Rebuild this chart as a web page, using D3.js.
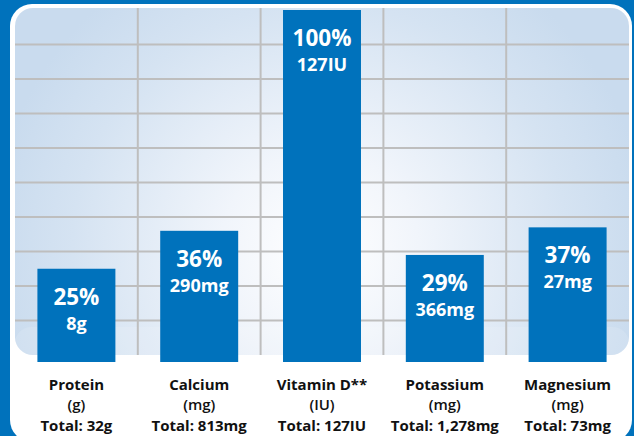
<!DOCTYPE html>
<html>
<head>
<meta charset="utf-8">
<script src="https://cdn.jsdelivr.net/npm/d3@7"></script>
<style>
  body { margin: 0; background: #0072bc; }
  svg { display: block; font-family: "Open Sans", "DejaVu Sans", sans-serif; }
</style>
</head>
<body>
<svg id="chart" width="634" height="436"></svg>
<script>
// Nutrient data.
const nutrients = ["Protein", "Calcium", "Vitamin D**", "Potassium", "Magnesium"];
const units = ["(g)", "(mg)", "(IU)", "(mg)", "(mg)"];
const percents = [25, 36, 100, 29, 37];
const amounts = ["8g", "290mg", "127IU", "366mg", "27mg"];
const totals = ["Total: 32g", "Total: 813mg", "Total: 127IU", "Total: 1,278mg", "Total: 73mg"];
const gridTicks = [10, 20, 30, 40, 50, 60, 70, 80, 90];

const blue = "#0072bc";

let svg = d3.select("#chart"),
    width = 634,
    height = 436;

// Scales: one column per nutrient, percent of daily value up the side.
let x = d3.scaleBand().domain(nutrients).range([15, 629]);
let y = d3.scaleLinear().domain([0, 100]).range([355, 10]);
let barWidth = x.bandwidth() * 0.635;

// Background gradient for the plot panel.
let defs = svg.append("defs");
let grad = defs.append("radialGradient")
    .attr("id", "panelGrad")
    .attr("gradientUnits", "userSpaceOnUse")
    .attr("cx", 320).attr("cy", 250).attr("r", 330);
grad.append("stop").attr("offset", 0).attr("stop-color", "#ffffff");
grad.append("stop").attr("offset", 0.3).attr("stop-color", "#f1f5fb");
grad.append("stop").attr("offset", 0.75).attr("stop-color", "#d5e3f2");
grad.append("stop").attr("offset", 1).attr("stop-color", "#c9dbee");

defs.append("clipPath").attr("id", "panelClip")
    .append("rect")
    .attr("x", 15).attr("y", 8)
    .attr("width", 614).attr("height", 347)
    .attr("rx", 18);

// Blue frame and white card.
svg.append("rect")
    .attr("width", width).attr("height", height)
    .attr("fill", blue);
svg.append("rect")
    .attr("x", 10).attr("y", 4)
    .attr("width", 622).attr("height", 438)
    .attr("rx", 22)
    .attr("fill", "#ffffff");

let panel = svg.append("g").attr("clip-path", "url(#panelClip)");
panel.append("rect")
    .attr("x", 15).attr("y", 8)
    .attr("width", 614).attr("height", 347)
    .attr("fill", "url(#panelGrad)");

// Soft gloss along the bottom of the panel.
panel.append("rect")
    .attr("x", 15).attr("y", 327)
    .attr("width", 614).attr("height", 40)
    .attr("rx", 16)
    .attr("fill", "#ffffff")
    .attr("opacity", 0.12);

// Grid lines.
panel.selectAll(".hgrid")
    .data(gridTicks)
    .enter().append("line")
    .attr("class", "hgrid")
    .attr("x1", 15).attr("x2", 629)
    .attr("y1", d => y(d)).attr("y2", d => y(d))
    .attr("stroke", "#bebebe")
    .attr("stroke-width", 2);

panel.selectAll(".vgrid")
    .data(nutrients.slice(1))
    .enter().append("line")
    .attr("class", "vgrid")
    .attr("x1", d => x(d)).attr("x2", d => x(d))
    .attr("y1", 8).attr("y2", 356)
    .attr("stroke", "#bebebe")
    .attr("stroke-width", 2);

// Bars.
let bars = svg.append("g")
    .selectAll("g")
    .data(nutrients)
    .enter().append("g");

bars.append("rect")
    .attr("x", d => x(d) + x.bandwidth() / 2 - barWidth / 2)
    .attr("y", (d, i) => y(percents[i]))
    .attr("width", barWidth)
    .attr("height", (d, i) => y(0) + 7 - y(percents[i]))
    .attr("fill", blue);

bars.append("text")
    .attr("x", d => x(d) + x.bandwidth() / 2)
    .attr("y", (d, i) => y(percents[i]) + 36)
    .attr("text-anchor", "middle")
    .attr("fill", "#ffffff")
    .attr("font-size", 22.5)
    .attr("font-weight", 700)
    .text((d, i) => percents[i] + "%");

bars.append("text")
    .attr("x", d => x(d) + x.bandwidth() / 2)
    .attr("y", (d, i) => y(percents[i]) + 61)
    .attr("text-anchor", "middle")
    .attr("fill", "#ffffff")
    .attr("font-size", 18)
    .attr("font-weight", 700)
    .text((d, i) => amounts[i]);

// Category labels below the panel.
let labels = svg.append("g")
    .selectAll("text")
    .data(nutrients)
    .enter().append("text")
    .attr("text-anchor", "middle")
    .attr("fill", "#111111")
    .attr("font-size", 15)
    .attr("font-weight", 700);

labels.append("tspan")
    .attr("x", d => x(d) + x.bandwidth() / 2)
    .attr("y", 389.5)
    .text(d => d);
labels.append("tspan")
    .attr("x", d => x(d) + x.bandwidth() / 2)
    .attr("y", 410)
    .attr("font-weight", 600)
    .text((d, i) => units[i]);
labels.append("tspan")
    .attr("x", d => x(d) + x.bandwidth() / 2)
    .attr("y", 431)
    .text((d, i) => totals[i]);
</script>
</body>
</html>
